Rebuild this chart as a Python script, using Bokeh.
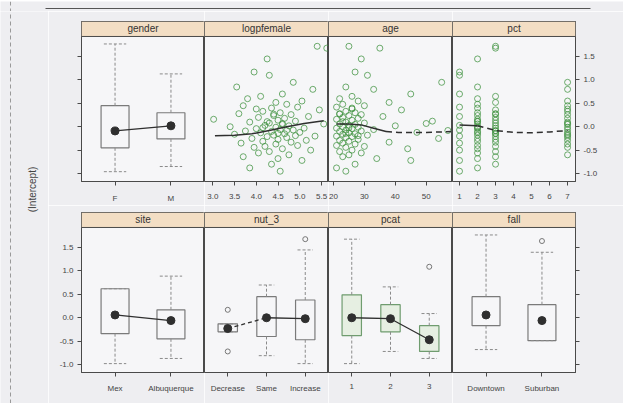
import math
import re
from bokeh.plotting import figure
from bokeh.models import (Range1d, FixedTicker, BoxAnnotation, Span, Label,
                          PrintfTickFormatter, CustomLabelingPolicy)
from bokeh.layouts import row, column
from bokeh.embed import file_html
from bokeh.resources import INLINE

# ---------------- data ----------------
intercept = [
    1.72, 1.68, 1.45, 1.17, 1.10, 0.95, 0.85, 0.80, 0.70, 0.65,
    0.60, 0.55, 0.52, 0.48, 0.45, 0.42, 0.40, 0.36, 0.33, 0.30,
    0.28, 0.26, 0.24, 0.22, 0.20, 0.18, 0.16, 0.14, 0.12, 0.10,
    0.08, 0.06, 0.05, 0.03, 0.02, 0.00, -0.01, -0.03, -0.04, -0.06,
    -0.07, -0.09, -0.10, -0.12, -0.13, -0.15, -0.16, -0.18, -0.20, -0.21,
    -0.23, -0.25, -0.27, -0.29, -0.31, -0.33, -0.35, -0.37, -0.40, -0.42,
    -0.44, -0.47, -0.50, -0.53, -0.56, -0.60, -0.64, -0.68, -0.72, -0.80,
    -0.88, -0.95, 0.38, -0.08, 0.11, -0.19, 0.27, -0.02, 0.07, -0.14]
logp = [
    5.40, 5.62, 4.25, 3.95, 4.30, 4.85, 3.55, 5.30, 4.60, 4.10,
    3.80, 5.05, 4.45, 4.70, 3.70, 4.95, 4.35, 5.45, 4.15, 4.55,
    3.60, 4.80, 4.40, 5.20, 4.05, 4.65, 3.02, 4.50, 4.90, 3.85,
    4.30, 5.55, 4.60, 4.20, 4.75, 3.40, 4.45, 5.10, 4.00, 4.55,
    4.85, 3.75, 4.35, 5.00, 4.10, 4.65, 3.50, 4.40, 5.35, 4.25,
    4.70, 3.90, 4.50, 5.15, 4.15, 4.80, 3.65, 4.45, 4.95, 4.20,
    3.95, 4.60, 5.25, 4.30, 4.05, 4.75, 3.70, 4.50, 5.05, 4.35,
    3.85, 4.55, 4.00, 4.70, 4.25, 4.90, 4.40, 4.15, 4.60, 4.50]
age = [
    25, 35, 29, 27, 31, 55, 24, 33, 45, 26,
    22, 28, 38, 23, 30, 21, 26, 42, 24, 27,
    22, 29, 25, 36, 23, 28, 21, 26, 52, 24,
    30, 22, 27, 25, 40, 23, 28, 21, 26, 33,
    24, 29, 22, 47, 25, 27, 23, 31, 21, 26,
    24, 54, 28, 22, 25, 38, 23, 27, 21, 30,
    24, 44, 26, 22, 29, 25, 23, 34, 45, 27,
    21, 24, 26, 57, 23, 28, 22, 25, 50, 24]
pct = [
    3, 3, 2, 1, 1, 7, 2, 7, 1, 3,
    2, 7, 3, 2, 7, 1, 2, 3, 7, 2,
    3, 7, 2, 1, 3, 7, 2, 3, 2, 7,
    3, 2, 7, 1, 3, 2, 7, 3, 2, 7,
    1, 3, 2, 7, 2, 3, 7, 2, 1, 3,
    7, 2, 3, 7, 2, 3, 1, 7, 2, 3,
    7, 2, 1, 3, 2, 7, 3, 2, 1, 3,
    2, 1, 7, 3, 2, 7, 3, 2, 7, 3]

logp_fit_x = [3.05, 3.5, 3.9, 4.3, 4.7, 5.1, 5.55]
logp_fit_y = [-0.19, -0.18, -0.15, -0.08, 0.00, 0.07, 0.13]
age_fit_x = [21, 25, 29, 33, 37, 41, 45, 50, 55, 58]
age_fit_y = [0.06, 0.06, 0.04, -0.03, -0.10, -0.12, -0.12, -0.12, -0.11, -0.10]
pct_fit_x = [1, 2, 3, 4, 5, 6, 7]
pct_fit_y = [0.04, 0.02, -0.08, -0.12, -0.13, -0.11, -0.08]

gender_levels = ["F", "M"]
gender_q1 = [-0.45, -0.26]; gender_med = [-0.09, 0.02]; gender_q3 = [0.45, 0.30]
gender_lo = [-0.96, -0.85]; gender_hi = [1.77, 1.13]

site_levels = ["Mex", "Albuquerque"]
site_q1 = [-0.34, -0.45]; site_med = [0.06, -0.06]; site_q3 = [0.62, 0.17]
site_lo = [-0.98, -0.87]; site_hi = [0.62, 0.89]

nut3_levels = ["Decrease", "Same", "Increase"]
nut3_q1 = [-0.30, -0.40, -0.47]; nut3_med = [-0.23, 0.00, -0.02]; nut3_q3 = [-0.13, 0.45, 0.38]
nut3_lo = [-0.30, -0.81, -0.98]; nut3_hi = [-0.13, 0.70, 1.45]
nut3_out_level = [1, 1, 3]; nut3_out_y = [0.17, -0.72, 1.68]

pcat_levels = ["1", "2", "3"]
pcat_q1 = [-0.38, -0.30, -0.72]; pcat_med = [0.00, -0.02, -0.47]; pcat_q3 = [0.49, 0.28, -0.17]
pcat_lo = [-0.98, -0.72, -0.87]; pcat_hi = [1.68, 0.66, 0.09]
pcat_out_level = [3]; pcat_out_y = [1.09]

fall_levels = ["Downtown", "Suburban"]
fall_q1 = [-0.17, -0.49]; fall_med = [0.06, -0.06]; fall_q3 = [0.45, 0.28]
fall_lo = [-0.68, -0.49]; fall_hi = [1.77, 1.40]
fall_out_level = [2]; fall_out_y = [1.64]

y_ticks = [-1.0, -0.5, 0.0, 0.5, 1.0, 1.5]

# ---------------- style ----------------
FONT = "Liberation Sans"
OUTER_BG = "#eeeef1"
PANEL_BG = "#f6f6f8"
BORDER = "#4a4a4a"
STRIP = "#f3dec4"
GREEN = "#3f923f"
DARK = "#2f2f2f"
WHISK = "#8a8a8a"
BOXLINE = "#7a7a7a"

YMIN, YMAX, PANEL_TOP = -1.17, 2.25, 1.93
# width, min_border_left, min_border_right per column
COLS = {0: (156, 33, 0), 1: (124, 0, 0), 2: (124, 0, 0), 3: (171, 0, 48)}

NO_LABELS = CustomLabelingPolicy(code="for (const i of indices) indices.unset(i); return indices")


def style_axis(ax, show_labels=True, standoff=3):
    ax.axis_line_color = BORDER
    ax.major_tick_line_color = BORDER
    ax.minor_tick_line_color = None
    ax.major_tick_out = 4
    ax.major_tick_in = 0
    ax.major_label_text_font = FONT
    ax.major_label_text_font_size = "8px"
    ax.major_label_text_color = "#444444"
    ax.major_label_standoff = standoff
    if not show_labels:
        ax.major_label_policy = NO_LABELS


def make_fig(col, top_row, name, xs, xe, xticks, overrides=None, xfmt=None):
    w, bl, br = COLS[col]
    h = 194 if top_row else 198
    bt = 10 if top_row else 7
    bb = 23 if top_row else 31
    yloc = "left" if col == 0 else ("right" if col == 3 else None)
    p = figure(width=w, height=h, x_range=Range1d(xs, xe), y_range=Range1d(YMIN, YMAX),
               output_backend="svg", toolbar_location=None, y_axis_location=yloc,
               min_border_left=bl, min_border_right=br, min_border_top=bt,
               min_border_bottom=bb)
    p.background_fill_color = PANEL_BG
    p.border_fill_color = OUTER_BG
    p.outline_line_color = BORDER
    p.outline_line_width = 1
    p.grid.grid_line_color = None
    p.xaxis.ticker = FixedTicker(ticks=xticks)
    if overrides:
        p.xaxis.major_label_overrides = overrides
    if xfmt:
        p.xaxis.formatter = PrintfTickFormatter(format=xfmt)
    for ax in p.xaxis:
        style_axis(ax, True, standoff=8 if top_row else 7)
    if yloc is not None:
        p.yaxis.ticker = FixedTicker(ticks=y_ticks)
        p.yaxis.formatter = PrintfTickFormatter(format="%.1f")
        show = (col == 3 and top_row) or (col == 0 and not top_row)
        for ax in p.yaxis:
            style_axis(ax, show, standoff=4)
    p.add_layout(BoxAnnotation(left=xs, right=xe, bottom=PANEL_TOP, top=YMAX,
                               fill_color=STRIP, fill_alpha=1.0, line_color=None))
    p.add_layout(Span(location=PANEL_TOP, dimension="width", line_color=BORDER, line_width=1))
    p.add_layout(Label(x=(xs + xe) / 2, y=(PANEL_TOP + YMAX) / 2, text=name,
                       text_align="center", text_baseline="middle",
                       text_font=FONT, text_font_size="10px", text_color="#333333"))
    return p


def box_panel(col, top_row, name, levels, q1, med, q3, lo, hi,
              out_lvl=None, out_y=None, line_col=BOXLINE, fill_col=PANEL_BG,
              connect="solid", dashed_first=False):
    n = len(levels)
    xsv = list(range(1, n + 1))
    p = make_fig(col, top_row, name, 0.4, n + 0.6, xsv,
                 {i + 1: lv for i, lv in enumerate(levels)})
    p.quad(left=[x - 0.25 for x in xsv], right=[x + 0.25 for x in xsv],
           bottom=q1, top=q3, fill_color=fill_col, line_color=line_col, line_width=1.2)
    p.segment(x0=xsv, y0=q3, x1=xsv, y1=hi, line_color=WHISK, line_dash="3 2", line_width=1)
    p.segment(x0=xsv, y0=q1, x1=xsv, y1=lo, line_color=WHISK, line_dash="3 2", line_width=1)
    p.segment(x0=[x - 0.2 for x in xsv], y0=hi, x1=[x + 0.2 for x in xsv], y1=hi,
              line_color=WHISK, line_dash="3 2", line_width=1)
    p.segment(x0=[x - 0.2 for x in xsv], y0=lo, x1=[x + 0.2 for x in xsv], y1=lo,
              line_color=WHISK, line_dash="3 2", line_width=1)
    if out_lvl:
        p.scatter(out_lvl, out_y, marker="circle", size=5, fill_color=None,
                  line_color="#777777", line_width=1)
    if connect:
        if dashed_first:
            p.line(xsv[:2], med[:2], line_color=DARK, line_width=1.3, line_dash="4 3")
            p.line(xsv[1:], med[1:], line_color=DARK, line_width=1.3)
        else:
            p.line(xsv, med, line_color=DARK, line_width=1.3)
    p.scatter(xsv, med, marker="circle", size=8, fill_color=DARK, line_color=DARK)
    return p


def scatter_panel(col, name, xvals, xs, xe, xticks, fx, fy, solid_n, xfmt=None):
    p = make_fig(col, True, name, xs, xe, xticks, xfmt=xfmt)
    p.scatter(xvals, intercept, marker="circle", size=6, fill_color=None,
              line_color=GREEN, line_alpha=0.75, line_width=1)
    p.line(fx[:solid_n], fy[:solid_n], line_color=DARK, line_width=1.5)
    if solid_n < len(fx):
        p.line(fx[solid_n - 1:], fy[solid_n - 1:], line_color=DARK, line_width=1.5,
               line_dash="6 4")
    return p


p1 = box_panel(0, True, "gender", gender_levels, gender_q1, gender_med, gender_q3,
               gender_lo, gender_hi)
p2 = scatter_panel(1, "logpfemale", logp, 2.81, 5.66, [3.0, 3.5, 4.0, 4.5, 5.0, 5.5],
                   logp_fit_x, logp_fit_y, len(logp_fit_x), xfmt="%.1f")
p3 = scatter_panel(2, "age", age, 18.4, 58.5, [20, 30, 40, 50],
                   age_fit_x, age_fit_y, 5)
p4 = scatter_panel(3, "pct", pct, 0.61, 7.44, [1, 2, 3, 4, 5, 6, 7],
                   pct_fit_x, pct_fit_y, 2)

p5 = box_panel(0, False, "site", site_levels, site_q1, site_med, site_q3, site_lo, site_hi)
p6 = box_panel(1, False, "nut_3", nut3_levels, nut3_q1, nut3_med, nut3_q3, nut3_lo, nut3_hi,
               nut3_out_level, nut3_out_y, dashed_first=True)
p7 = box_panel(2, False, "pcat", pcat_levels, pcat_q1, pcat_med, pcat_q3, pcat_lo, pcat_hi,
               pcat_out_level, pcat_out_y, line_col="#6f9c6f", fill_col="#e6efe2")
p8 = box_panel(3, False, "fall", fall_levels, fall_q1, fall_med, fall_q3, fall_lo, fall_hi,
               fall_out_level, fall_out_y, connect=None)

# left strip with the y-axis title
LH = 194 + 198
left = figure(width=48, height=LH, x_range=Range1d(0, 48), y_range=Range1d(0, LH),
              output_backend="svg", toolbar_location=None, x_axis_location=None,
              y_axis_location=None, min_border=0)
left.background_fill_color = OUTER_BG
left.border_fill_color = OUTER_BG
left.outline_line_color = None
left.grid.grid_line_color = None
left.line([10, 10], [0, LH], line_color="#9a9a9a", line_dash="4 3", line_width=1)
left.add_layout(Label(x=32, y=LH - 178, text="(Intercept)", angle=math.pi / 2,
                      text_align="center", text_baseline="middle",
                      text_font=FONT, text_font_size="10px", text_color="#444444"))

# header rule
header = figure(width=623, height=11, x_range=Range1d(0, 623), y_range=Range1d(0, 11),
                output_backend="svg", toolbar_location=None, x_axis_location=None,
                y_axis_location=None, min_border=0)
header.background_fill_color = OUTER_BG
header.border_fill_color = OUTER_BG
header.outline_line_color = None
header.grid.grid_line_color = None
header.line([45, 590], [4, 4], line_color="#555555", line_width=1)
header.line([10, 10], [0, 11], line_color="#9a9a9a", line_dash="4 3", line_width=1)

grid = column(row(p1, p2, p3, p4), row(p5, p6, p7, p8))
layout = column(header, row(left, grid))

html = file_html(layout, INLINE)
html = re.sub(r"<body([^>]*)>",
              r'<body style="margin:0;background-color:#eeeef1;"\1>', html, count=1)
open("out.html", "w").write(html)
